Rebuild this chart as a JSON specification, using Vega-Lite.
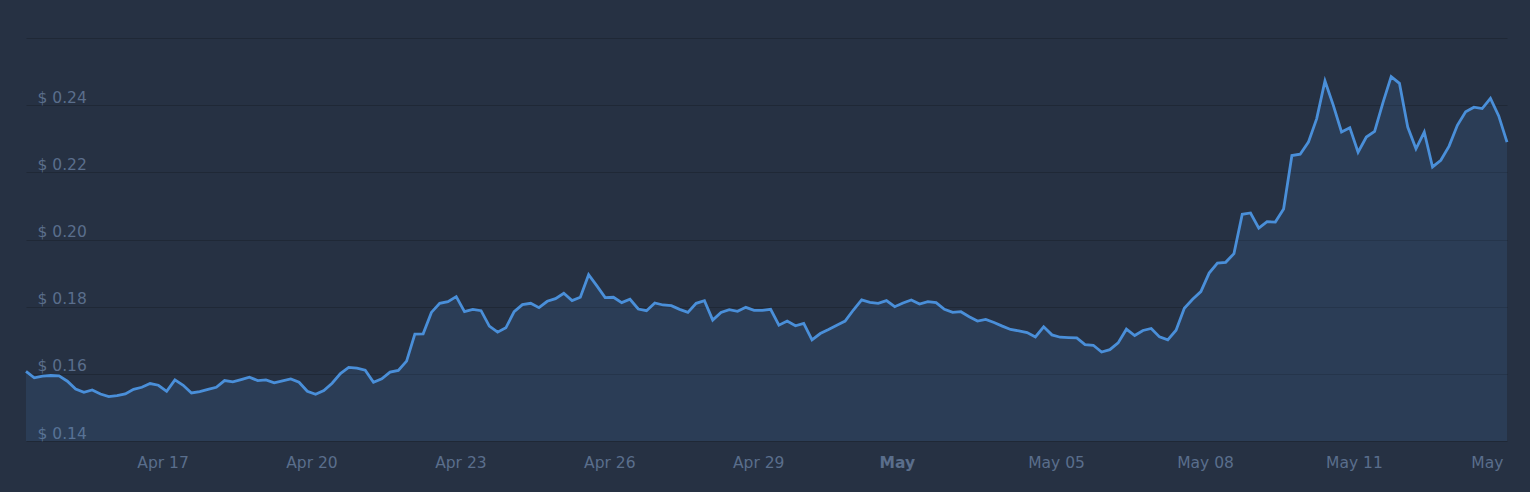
{
  "$schema": "https://vega.github.io/schema/vega-lite/v6.json",
  "autosize": "none",
  "width": 1481,
  "height": 403,
  "padding": {"left": 26, "top": 38, "right": 23, "bottom": 51},
  "background": "#263143",
  "config": {
    "view": {"stroke": null},
    "axis": {"labelFont": "DejaVu Sans", "labelFontSize": 15.5, "labelColor": "#5a6e8c", "title": null}
  },
  "data": {"values": [
    {"t": "2024-04-14T06:00", "p": 0.1607}, {"t": "2024-04-14T10:00", "p": 0.1588}, {"t": "2024-04-14T14:00", "p": 0.1593}, {"t": "2024-04-14T18:00", "p": 0.1595}, {"t": "2024-04-14T22:00", "p": 0.1594},
    {"t": "2024-04-15T02:00", "p": 0.1578}, {"t": "2024-04-15T06:00", "p": 0.1555}, {"t": "2024-04-15T10:00", "p": 0.1545}, {"t": "2024-04-15T14:00", "p": 0.1552}, {"t": "2024-04-15T18:00", "p": 0.1540}, {"t": "2024-04-15T22:00", "p": 0.1532},
    {"t": "2024-04-16T02:00", "p": 0.1535}, {"t": "2024-04-16T06:00", "p": 0.1540}, {"t": "2024-04-16T10:00", "p": 0.1554}, {"t": "2024-04-16T14:00", "p": 0.1560}, {"t": "2024-04-16T18:00", "p": 0.1571}, {"t": "2024-04-16T22:00", "p": 0.1566},
    {"t": "2024-04-17T02:00", "p": 0.1548}, {"t": "2024-04-17T06:00", "p": 0.1582}, {"t": "2024-04-17T10:00", "p": 0.1566}, {"t": "2024-04-17T14:00", "p": 0.1543}, {"t": "2024-04-17T18:00", "p": 0.1547}, {"t": "2024-04-17T22:00", "p": 0.1554},
    {"t": "2024-04-18T02:00", "p": 0.1560}, {"t": "2024-04-18T06:00", "p": 0.1580}, {"t": "2024-04-18T10:00", "p": 0.1576}, {"t": "2024-04-18T14:00", "p": 0.1583}, {"t": "2024-04-18T18:00", "p": 0.1590}, {"t": "2024-04-18T22:00", "p": 0.1580},
    {"t": "2024-04-19T02:00", "p": 0.1582}, {"t": "2024-04-19T06:00", "p": 0.1573}, {"t": "2024-04-19T10:00", "p": 0.1579}, {"t": "2024-04-19T14:00", "p": 0.1585}, {"t": "2024-04-19T18:00", "p": 0.1575}, {"t": "2024-04-19T22:00", "p": 0.1548},
    {"t": "2024-04-20T02:00", "p": 0.1539}, {"t": "2024-04-20T06:00", "p": 0.1550}, {"t": "2024-04-20T10:00", "p": 0.1572}, {"t": "2024-04-20T14:00", "p": 0.1601}, {"t": "2024-04-20T18:00", "p": 0.1619}, {"t": "2024-04-20T22:00", "p": 0.1617},
    {"t": "2024-04-21T02:00", "p": 0.1611}, {"t": "2024-04-21T06:00", "p": 0.1575}, {"t": "2024-04-21T10:00", "p": 0.1585}, {"t": "2024-04-21T14:00", "p": 0.1605}, {"t": "2024-04-21T18:00", "p": 0.1610}, {"t": "2024-04-21T22:00", "p": 0.1638},
    {"t": "2024-04-22T02:00", "p": 0.1718}, {"t": "2024-04-22T06:00", "p": 0.1719}, {"t": "2024-04-22T10:00", "p": 0.1783}, {"t": "2024-04-22T14:00", "p": 0.1810}, {"t": "2024-04-22T18:00", "p": 0.1815}, {"t": "2024-04-22T22:00", "p": 0.1830},
    {"t": "2024-04-23T02:00", "p": 0.1785}, {"t": "2024-04-23T06:00", "p": 0.1792}, {"t": "2024-04-23T10:00", "p": 0.1788}, {"t": "2024-04-23T14:00", "p": 0.1742}, {"t": "2024-04-23T18:00", "p": 0.1724}, {"t": "2024-04-23T22:00", "p": 0.1737},
    {"t": "2024-04-24T02:00", "p": 0.1785}, {"t": "2024-04-24T06:00", "p": 0.1806}, {"t": "2024-04-24T10:00", "p": 0.1810}, {"t": "2024-04-24T14:00", "p": 0.1797}, {"t": "2024-04-24T18:00", "p": 0.1816}, {"t": "2024-04-24T22:00", "p": 0.1824},
    {"t": "2024-04-25T02:00", "p": 0.1840}, {"t": "2024-04-25T06:00", "p": 0.1818}, {"t": "2024-04-25T10:00", "p": 0.1828}, {"t": "2024-04-25T14:00", "p": 0.1895}, {"t": "2024-04-25T18:00", "p": 0.1862}, {"t": "2024-04-25T22:00", "p": 0.1827},
    {"t": "2024-04-26T02:00", "p": 0.1828}, {"t": "2024-04-26T06:00", "p": 0.1812}, {"t": "2024-04-26T10:00", "p": 0.1822}, {"t": "2024-04-26T14:00", "p": 0.1793}, {"t": "2024-04-26T18:00", "p": 0.1788}, {"t": "2024-04-26T22:00", "p": 0.1811},
    {"t": "2024-04-27T02:00", "p": 0.1805}, {"t": "2024-04-27T06:00", "p": 0.1803}, {"t": "2024-04-27T10:00", "p": 0.1792}, {"t": "2024-04-27T14:00", "p": 0.1783}, {"t": "2024-04-27T18:00", "p": 0.1810}, {"t": "2024-04-27T22:00", "p": 0.1818},
    {"t": "2024-04-28T02:00", "p": 0.1760}, {"t": "2024-04-28T06:00", "p": 0.1783}, {"t": "2024-04-28T10:00", "p": 0.1791}, {"t": "2024-04-28T14:00", "p": 0.1786}, {"t": "2024-04-28T18:00", "p": 0.1798}, {"t": "2024-04-28T22:00", "p": 0.1789},
    {"t": "2024-04-29T02:00", "p": 0.1789}, {"t": "2024-04-29T06:00", "p": 0.1792}, {"t": "2024-04-29T10:00", "p": 0.1745}, {"t": "2024-04-29T14:00", "p": 0.1757}, {"t": "2024-04-29T18:00", "p": 0.1743}, {"t": "2024-04-29T22:00", "p": 0.1750},
    {"t": "2024-04-30T02:00", "p": 0.1701}, {"t": "2024-04-30T06:00", "p": 0.1720}, {"t": "2024-04-30T10:00", "p": 0.1732}, {"t": "2024-04-30T14:00", "p": 0.1745}, {"t": "2024-04-30T18:00", "p": 0.1757}, {"t": "2024-04-30T22:00", "p": 0.1790},
    {"t": "2024-05-01T02:00", "p": 0.1820}, {"t": "2024-05-01T06:00", "p": 0.1813}, {"t": "2024-05-01T10:00", "p": 0.1810}, {"t": "2024-05-01T14:00", "p": 0.1818}, {"t": "2024-05-01T18:00", "p": 0.1800}, {"t": "2024-05-01T22:00", "p": 0.1811},
    {"t": "2024-05-02T02:00", "p": 0.1820}, {"t": "2024-05-02T06:00", "p": 0.1808}, {"t": "2024-05-02T10:00", "p": 0.1815}, {"t": "2024-05-02T14:00", "p": 0.1812}, {"t": "2024-05-02T18:00", "p": 0.1792}, {"t": "2024-05-02T22:00", "p": 0.1783},
    {"t": "2024-05-03T02:00", "p": 0.1785}, {"t": "2024-05-03T06:00", "p": 0.1770}, {"t": "2024-05-03T10:00", "p": 0.1757}, {"t": "2024-05-03T14:00", "p": 0.1762}, {"t": "2024-05-03T18:00", "p": 0.1753}, {"t": "2024-05-03T22:00", "p": 0.1742},
    {"t": "2024-05-04T02:00", "p": 0.1732}, {"t": "2024-05-04T06:00", "p": 0.1728}, {"t": "2024-05-04T10:00", "p": 0.1723}, {"t": "2024-05-04T14:00", "p": 0.1710}, {"t": "2024-05-04T18:00", "p": 0.1740}, {"t": "2024-05-04T22:00", "p": 0.1716},
    {"t": "2024-05-05T02:00", "p": 0.1709}, {"t": "2024-05-05T06:00", "p": 0.1708}, {"t": "2024-05-05T10:00", "p": 0.1707}, {"t": "2024-05-05T14:00", "p": 0.1687}, {"t": "2024-05-05T18:00", "p": 0.1685}, {"t": "2024-05-05T22:00", "p": 0.1665},
    {"t": "2024-05-06T02:00", "p": 0.1672}, {"t": "2024-05-06T06:00", "p": 0.1692}, {"t": "2024-05-06T10:00", "p": 0.1733}, {"t": "2024-05-06T14:00", "p": 0.1714}, {"t": "2024-05-06T18:00", "p": 0.1729}, {"t": "2024-05-06T22:00", "p": 0.1735},
    {"t": "2024-05-07T02:00", "p": 0.1710}, {"t": "2024-05-07T06:00", "p": 0.1701}, {"t": "2024-05-07T10:00", "p": 0.1730}, {"t": "2024-05-07T14:00", "p": 0.1795}, {"t": "2024-05-07T18:00", "p": 0.1822}, {"t": "2024-05-07T22:00", "p": 0.1845},
    {"t": "2024-05-08T02:00", "p": 0.1900}, {"t": "2024-05-08T06:00", "p": 0.1930}, {"t": "2024-05-08T10:00", "p": 0.1932}, {"t": "2024-05-08T14:00", "p": 0.1958}, {"t": "2024-05-08T18:00", "p": 0.2075}, {"t": "2024-05-08T22:00", "p": 0.2079},
    {"t": "2024-05-09T02:00", "p": 0.2034}, {"t": "2024-05-09T06:00", "p": 0.2053}, {"t": "2024-05-09T10:00", "p": 0.2052}, {"t": "2024-05-09T14:00", "p": 0.2091}, {"t": "2024-05-09T18:00", "p": 0.2250}, {"t": "2024-05-09T22:00", "p": 0.2254},
    {"t": "2024-05-10T02:00", "p": 0.2290}, {"t": "2024-05-10T06:00", "p": 0.2360}, {"t": "2024-05-10T10:00", "p": 0.2472}, {"t": "2024-05-10T14:00", "p": 0.2400}, {"t": "2024-05-10T18:00", "p": 0.2320}, {"t": "2024-05-10T22:00", "p": 0.2333},
    {"t": "2024-05-11T02:00", "p": 0.2260}, {"t": "2024-05-11T06:00", "p": 0.2305}, {"t": "2024-05-11T10:00", "p": 0.2322}, {"t": "2024-05-11T14:00", "p": 0.2407}, {"t": "2024-05-11T18:00", "p": 0.2485}, {"t": "2024-05-11T22:00", "p": 0.2465},
    {"t": "2024-05-12T02:00", "p": 0.2335}, {"t": "2024-05-12T06:00", "p": 0.2270}, {"t": "2024-05-12T10:00", "p": 0.2320}, {"t": "2024-05-12T14:00", "p": 0.2216}, {"t": "2024-05-12T18:00", "p": 0.2236}, {"t": "2024-05-12T22:00", "p": 0.2278},
    {"t": "2024-05-13T02:00", "p": 0.2340}, {"t": "2024-05-13T06:00", "p": 0.2380}, {"t": "2024-05-13T10:00", "p": 0.2394}, {"t": "2024-05-13T14:00", "p": 0.2390}, {"t": "2024-05-13T18:00", "p": 0.2420}, {"t": "2024-05-13T22:00", "p": 0.2368},
    {"t": "2024-05-14T02:00", "p": 0.2290}
  ]},
  "encoding": {
    "x": {
      "field": "t", "type": "temporal",
      "axis": {
        "values": [
          {"year": 2024, "month": 4, "date": 17},
          {"year": 2024, "month": 4, "date": 20},
          {"year": 2024, "month": 4, "date": 23},
          {"year": 2024, "month": 4, "date": 26},
          {"year": 2024, "month": 4, "date": 29},
          {"year": 2024, "month": 5, "date": 1, "hours": 19},
          {"year": 2024, "month": 5, "date": 5},
          {"year": 2024, "month": 5, "date": 8},
          {"year": 2024, "month": 5, "date": 11},
          {"year": 2024, "month": 5, "date": 14}
        ],
        "labelExpr": "month(datum.value) == 4 && (date(datum.value) == 1 || date(datum.value) == 14) ? 'May' : timeFormat(datum.value, '%b %d')",
        "labelFontWeight": {"condition": {"test": "month(datum.value) == 4 && date(datum.value) == 1", "value": "bold"}, "value": "normal"},
        "labelAlign": {"condition": {"test": "month(datum.value) == 4 && date(datum.value) == 14", "value": "right"}, "value": "center"},
        "labelFlush": false,
        "labelOverlap": false,
        "labelPadding": 14,
        "grid": false,
        "ticks": false,
        "tickSize": 0,
        "domain": false
      }
    },
    "y": {
      "field": "p", "type": "quantitative",
      "scale": {"domain": [0.14, 0.26], "nice": false, "zero": false},
      "axis": {
        "values": [0.14, 0.16, 0.18, 0.2, 0.22, 0.24, 0.26],
        "labelExpr": "datum.value > 0.25 ? '' : '$ ' + format(datum.value, '.2f')",
        "labelAlign": "left",
        "labelBaseline": "alphabetic",
        "labelPadding": -11,
        "labelOffset": -3,
        "ticks": false,
        "tickSize": 0,
        "domain": false,
        "grid": true,
        "gridColor": "#1f2836",
        "gridWidth": 1.2
      }
    }
  },
  "layer": [
    {"mark": {"type": "area", "color": "#4a8fd9", "opacity": 0.13}, "encoding": {"y2": {"datum": 0.14}}},
    {"mark": {"type": "line", "color": "#4a8fd9", "strokeWidth": 2.8}}
  ]
}
